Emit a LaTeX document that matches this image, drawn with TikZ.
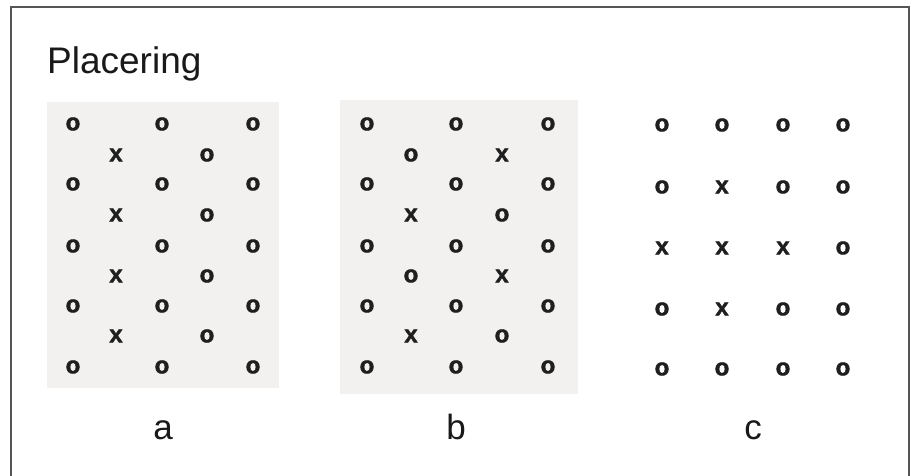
\documentclass[tikz,border=0pt]{standalone}
\usepackage{fontspec}
\setmainfont{Liberation Sans}
\newfontfamily\markfont{Liberation Sans}[BoldFeatures={FakeBold=1.6}]
\definecolor{panelgray}{HTML}{F3F1EF}
\definecolor{framegray}{HTML}{555555}
\begin{document}
\begin{tikzpicture}[x=1pt,y=-1pt,
  dot/.style={font=\fontsize{24}{24}\markfont\bfseries, inner sep=0pt, text=black!88},
  lab/.style={font=\fontsize{35}{35}\selectfont, inner sep=0pt, text=black!90, anchor=base},
  panel/.style={fill=panelgray, draw=none},
  frameline/.style={draw=framegray, line width=1.3pt}]
\useasboundingbox (0,0) rectangle (915,476);
\fill[white] (0,0) rectangle (915,476);
\draw[frameline] (11,490) -- (11,7) -- (909,7) -- (909,490);
\node[lab, anchor=base west, font=\fontsize{37}{37}\selectfont] (title) at (47,74) {Placering};
% panels
\fill[panel] (47,102) rectangle (279,388);
\fill[panel] (340,100) rectangle (578,394);
% panel a
\foreach \yy [count=\i] in {124,184,246,306,367}
  \foreach \xx [count=\j] in {73,162,253}
    \node[dot] (ao\i\j) at (\xx,\yy) {o};
\foreach \yy [count=\i] in {155,215,276,336} {
  \node[dot] (ax\i) at (116,\yy) {x};
  \node[dot] (ai\i) at (207,\yy) {o};
}
% panel b
\foreach \yy [count=\i] in {124,184,246,306,367}
  \foreach \xx [count=\j] in {367,456,548}
    \node[dot] (bo\i\j) at (\xx,\yy) {o};
\foreach \yy/\l/\r [count=\i] in {155/o/x,215/x/o,276/o/x,336/x/o} {
  \node[dot] (bl\i) at (411,\yy) {\l};
  \node[dot] (br\i) at (502,\yy) {\r};
}
% panel c
\foreach \yy/\ca/\cb/\cc/\cd [count=\i] in {125/o/o/o/o,187/o/x/o/o,248/x/x/x/o,309/o/x/o/o,369/o/o/o/o}
  \foreach \xx/\t [count=\j] in {662/\ca,722/\cb,783/\cc,843/\cd}
    \node[dot] (c\i\j) at (\xx,\yy) {\t};
% labels
\node[lab] (la) at (163,439) {a};
\node[lab] (lb) at (456,439) {b};
\node[lab] (lc) at (753,439) {c};
\end{tikzpicture}
\end{document}
